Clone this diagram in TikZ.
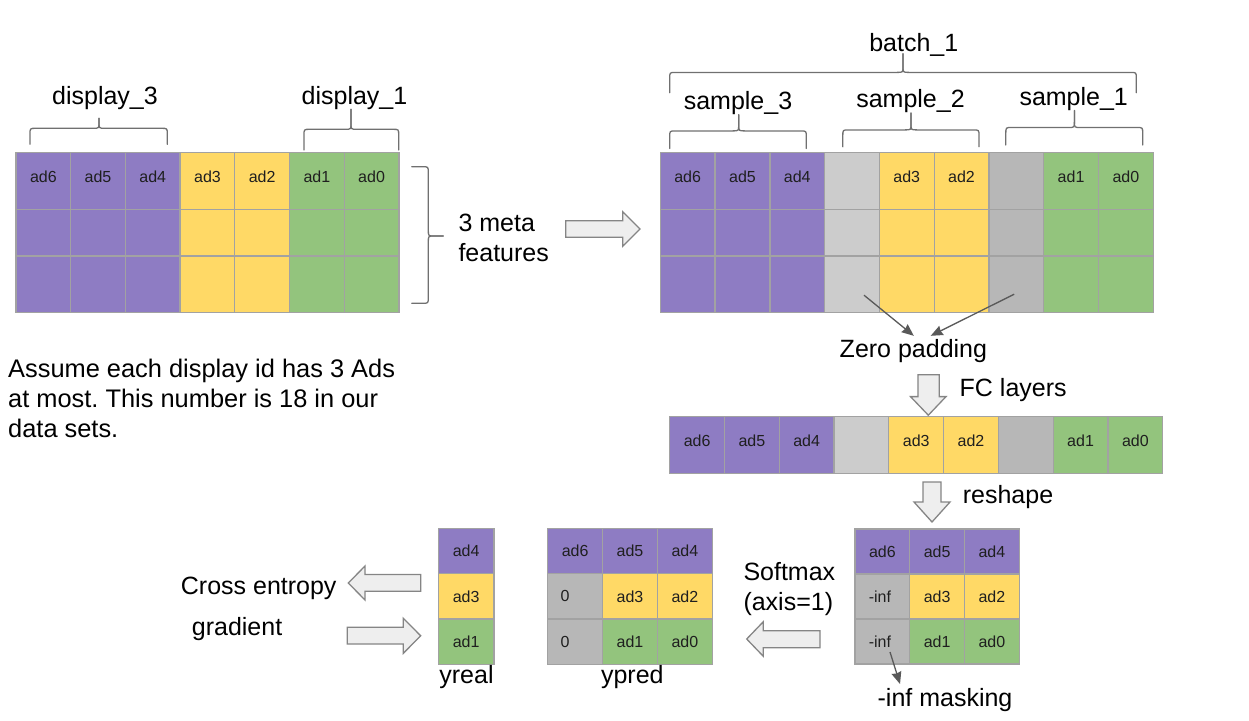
\documentclass[tikz,border=0pt]{standalone}
\usepackage{fontspec}
\setmainfont{Liberation Sans}
\usetikzlibrary{arrows.meta}
\definecolor{pur}{HTML}{8E7CC3}
\definecolor{yel}{HTML}{FFD966}
\definecolor{grn}{HTML}{93C47D}
\definecolor{lgr}{HTML}{CCCCCC}
\definecolor{dgr}{HTML}{B7B7B7}
\definecolor{gridc}{HTML}{A2A2A2}
\definecolor{brc}{HTML}{707070}
\definecolor{arrc}{HTML}{595959}
\definecolor{barf}{HTML}{EEEEEE}
\definecolor{bard}{HTML}{858585}
\newcommand{\hbr}[6]{% x1 x2 xc yb yt yc
  \draw[brace] (#1,#4) -- (#1,#5+6) .. controls (#1,#5) .. (#1+6,#5) -- (#3-6,#5) .. controls (#3,#5) .. (#3,#5-6) -- (#3,#6);
  \draw[brace] (#3,#6) -- (#3,#5-6) .. controls (#3,#5) .. (#3+6,#5) -- (#2-6,#5) .. controls (#2,#5) .. (#2,#5+6) -- (#2,#4);
}
\frenchspacing
\begin{document}
\begin{tikzpicture}[x=1pt,y=-1pt,
  cell/.style={draw=gridc, line width=1.3pt, rectangle, inner sep=0pt},
  lbl/.style={inner sep=0pt, font=\fontsize{16}{19}\selectfont, text=black!88},
  big/.style={inner sep=0pt, font=\fontsize{25}{30}\selectfont},
  brace/.style={draw=brc, line width=1.3pt, line cap=round},
  barrow/.style={fill=barf, draw=bard, line width=1.3pt, line join=miter},
  thinarrow/.style={draw=arrc, line width=1.3pt, -{Stealth[length=12pt,width=10pt,inset=1pt]}}
]
\useasboundingbox (0,0) rectangle (1249,720);

% ---------- grid 1 ----------
\foreach \col/\lab [count=\i from 0] in {pur/ad6,pur/ad5,pur/ad4,yel/ad3,yel/ad2,grn/ad1,grn/ad0}{
  \foreach \ry/\rh [count=\j] in {152.7/56.6,209.3/46.7,256/56.3}{
    \node[cell, fill=\col, minimum width=54.7pt, minimum height=\rh pt] (ga-\i-\j) at ({16+54.7*\i+27.35},{\ry+\rh/2}) {};
  }
  \node[lbl] (ga-\i-t) at ({16+54.7*\i+27.35},177) {\lab};
}

% ---------- grid 2 ----------
\foreach \col/\lab [count=\i from 0] in {pur/ad6,pur/ad5,pur/ad4,lgr/,yel/ad3,yel/ad2,dgr/,grn/ad1,grn/ad0}{
  \foreach \ry/\rh [count=\j] in {152.7/56.6,209.3/46.7,256/56.7}{
    \node[cell, fill=\col, minimum width=54.77pt, minimum height=\rh pt] (gb-\i-\j) at ({660.3+54.77*\i+27.385},{\ry+\rh/2}) {};
  }
  \node[lbl] (gb-\i-t) at ({660.3+54.77*\i+27.385},177) {\lab};
}

% ---------- FC row ----------
\foreach \col/\lab [count=\i from 0] in {pur/ad6,pur/ad5,pur/ad4,lgr/,yel/ad3,yel/ad2,dgr/,grn/ad1,grn/ad0}{
  \node[cell, fill=\col, minimum width=54.78pt, minimum height=56.6pt] (fc-\i) at ({669.7+54.78*\i+27.39},445) {};
  \node[lbl] (fc-\i-t) at ({669.7+54.78*\i+27.39},441) {\lab};
}

% ---------- reshaped grid ----------
\foreach \row [count=\j from 0] in {{pur/ad6/0,pur/ad5/0,pur/ad4/0},{dgr/-inf/-2.5,yel/ad3/0,yel/ad2/0},{dgr/-inf/-2.5,grn/ad1/0,grn/ad0/0}}{
  \foreach \col/\lab/\dx [count=\i from 0] in \row {
    \node[cell, fill=\col, minimum width=54.77pt, minimum height=45pt] (rs-\i-\j) at ({855+54.77*\i+27.385},{529+45*\j+22.5}) {};
    \node[lbl] (rs-\i-\j-t) at ({855+54.77*\i+27.385+\dx},{529+45*\j+22.5}) {\lab};
  }
}

% ---------- ypred ----------
\foreach \row [count=\j from 0] in {{pur/ad6/0,pur/ad5/0,pur/ad4/0},{dgr/0/-10,yel/ad3/0,yel/ad2/0},{dgr/0/-10,grn/ad1/0,grn/ad0/0}}{
  \foreach \col/\lab/\dx [count=\i from 0] in \row {
    \node[cell, fill=\col, minimum width=54.87pt, minimum height=45.33pt] (yp-\i-\j) at ({547.7+54.87*\i+27.435},{528.3+45.33*\j+22.67}) {};
    \node[lbl] (yp-\i-\j-t) at ({547.7+54.87*\i+27.435+\dx},{528.3+45.33*\j+22.67}) {\lab};
  }
}

% ---------- yreal ----------
\foreach \col/\lab [count=\j from 0] in {pur/ad4,yel/ad3,grn/ad1}{
  \node[cell, fill=\col, minimum width=55.7pt, minimum height=45.33pt] (yr-\j) at (466.15,{528.3+45.33*\j+22.67}) {};
  \node[lbl] (yr-\j-t) at (466.15,{528.3+45.33*\j+22.67}) {\lab};
}

% ---------- braces ----------
\hbr{30}{167.3}{99}{144.3}{128.3}{118.3}
\hbr{304}{398.7}{351}{150}{129.3}{109.3}
\hbr{669.7}{1136.3}{903}{92.7}{72.4}{53.8}
\hbr{669.7}{806.3}{738.7}{148.5}{130.9}{114.7}
\hbr{842.8}{979}{911}{146.8}{129.9}{113}
\hbr{1005.8}{1142.7}{1074.4}{145}{127.5}{110.5}
\draw[brace] (411.7,166.7) -- (422.3,166.7) .. controls (428.3,166.7) .. (428.3,172.7) -- (428.3,230) .. controls (428.3,236) .. (434.3,236) -- (443.3,236);
\draw[brace] (443.3,236) -- (434.3,236) .. controls (428.3,236) .. (428.3,242) -- (428.3,297.3) .. controls (428.3,303.3) .. (422.3,303.3) -- (411.7,303.3);

% ---------- texts ----------
\node[big] (t-d3) at (105,98.3) {display\_3};
\node[big] (t-d1) at (354.5,98.3) {display\_1};
\node[big] (t-b1) at (913.8,45.4) {batch\_1};
\node[big] (t-s3) at (738,102.8) {sample\_3};
\node[big] (t-s2) at (910.5,101) {sample\_2};
\node[big] (t-s1) at (1073.7,99.4) {sample\_1};
\node[big, anchor=west, align=left] (t-meta) at (458.3,237.5) {3 meta\\features};
\node[big, anchor=west, align=left, font=\fontsize{25.4}{30}\selectfont] (t-assume) at (8,398.5) {Assume each display id has 3 Ads\\at most. This number is 18 in our\\data sets.};
\node[big] (t-zp) at (913.4,351) {Zero padding};
\node[big, anchor=west] (t-fc) at (959.5,389.9) {FC layers};
\node[big] (t-rs) at (1008,497) {reshape};
\node[big, anchor=west, align=left] (t-sm) at (743.3,589) {Softmax\\(axis=1)};
\node[big] (t-im) at (945,700) {-inf masking};
\node[big] (t-yr) at (466.5,677) {yreal};
\node[big] (t-yp) at (632.3,677) {ypred};
\node[big, anchor=west] (t-ce) at (180.7,588) {Cross entropy};
\node[big, anchor=west] (t-gr) at (191.7,629) {gradient};

% ---------- block arrows ----------
\draw[barrow] (565.7,220.7) -- (622.7,220.7) -- (622.7,211.7) -- (640,229) -- (622.7,246.3) -- (622.7,237.3) -- (565.7,237.3) -- cycle;
\draw[barrow] (917.9,374.7) -- (939.2,374.7) -- (939.2,396.6) -- (946,396.6) -- (928.3,415.2) -- (910.5,396.6) -- (917.9,396.6) -- cycle;
\draw[barrow] (923,482) -- (941,482) -- (941,502) -- (950,502) -- (932,522) -- (914,502) -- (923,502) -- cycle;
\draw[barrow] (820,630.7) -- (763.3,630.7) -- (763.3,621.7) -- (746.7,639) -- (763.3,656.3) -- (763.3,647.7) -- (820,647.7) -- cycle;
\draw[barrow] (420.7,574.5) -- (365,574.5) -- (365,566) -- (348.3,583) -- (365,600) -- (365,591.2) -- (420.7,591.2) -- cycle;
\draw[barrow] (347.3,627.3) -- (403.3,627.3) -- (403.3,618.3) -- (420.7,635.8) -- (403.3,653.3) -- (403.3,644) -- (347.3,644) -- cycle;

% ---------- thin arrows ----------
\coordinate (zpa) at (864,295.2);
\coordinate (zpat) at (913.8,335.8);
\coordinate (zpb) at (1014.2,294.2);
\coordinate (zpbt) at (930.7,335.8);
\coordinate (ima) at (890,652);
\coordinate (imat) at (900,684);
\draw[thinarrow] (zpa) -- (zpat);
\draw[thinarrow] (zpb) -- (zpbt);
\draw[thinarrow] (ima) -- (imat);
\end{tikzpicture}
\end{document}
